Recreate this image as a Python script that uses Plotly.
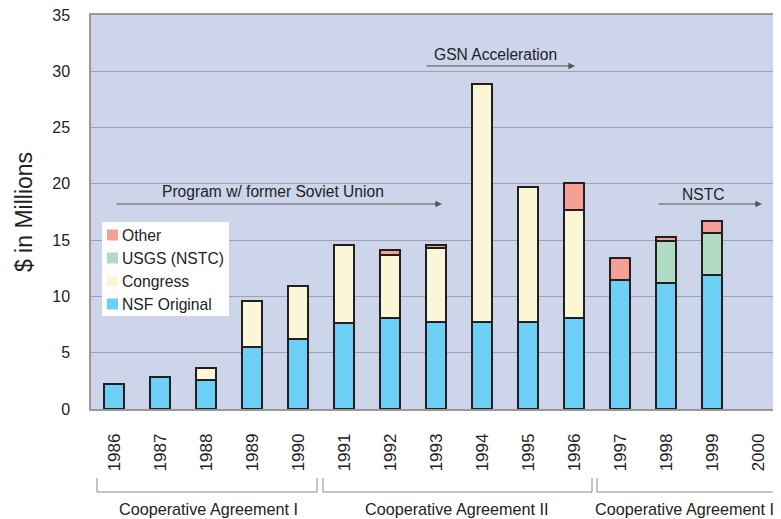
import plotly.graph_objects as go

years = ["1986", "1987", "1988", "1989", "1990", "1991", "1992", "1993",
         "1994", "1995", "1996", "1997", "1998", "1999", "2000"]
nsf_original = [2.2, 2.8, 2.6, 5.5, 6.2, 7.6, 8.05, 7.7, 7.7, 7.7, 8.05, 11.45, 11.15, 11.9, None]
congress = [None, None, 1.0, 4.1, 4.7, 7.0, 5.65, 6.6, 21.2, 12.0, 9.65, None, None, None, None]
usgs_nstc = [None, None, None, None, None, None, None, None, None, None, None, None, 3.8, 3.7, None]
other = [None, None, None, None, None, None, 0.4, 0.3, None, None, 2.4, 1.95, 0.35, 1.1, None]

series_names = ["NSF Original", "Congress", "USGS (NSTC)", "Other"]
series_values = [nsf_original, congress, usgs_nstc, other]
series_colors = ["#6dcff6", "#faf6d6", "#b1dcc4", "#f4a096"]

agreements = ["Cooperative Agreement I", "Cooperative Agreement II", "Cooperative Agreement II"]

FONT = "Liberation Sans, Arial, Helvetica, sans-serif"
NARROW = "Liberation Sans Narrow, Liberation Sans, Arial, sans-serif"

fig = go.Figure()
for name, vals, color in zip(series_names, series_values, series_colors):
    fig.add_trace(go.Bar(
        x=years, y=vals, name=name, showlegend=False,
        marker=dict(color=color, line=dict(color="#231f20", width=2)),
        width=0.44,
    ))

# paper coordinates helpers (page pixels): plot spans x 91..781, y 15..409
W, H, L, T = 690.0, 394.0, 91.0, 15.0
def px(x):
    return (x - L) / W
def py(y):
    return (T + H - y) / H

annotations = []
shapes = []

# arrows with labels
arrows = [
    ("Program w/ former Soviet Union", 115, 442, 204, 273, 192),
    ("GSN Acceleration", 425, 575, 66, 495, 55),
    ("NSTC", 657, 762, 204, 703, 194),
]
for text, x0, x1, yy, tx, ty in arrows:
    annotations.append(dict(
        xref="paper", yref="paper", x=px(x1), y=py(yy),
        ax=-(x1 - x0), ay=0, axref="pixel", ayref="pixel",
        showarrow=True, arrowhead=2, arrowsize=1.1, arrowwidth=1.2,
        arrowcolor="#555555", text="",
    ))
    annotations.append(dict(
        xref="paper", yref="paper", x=px(tx), y=py(ty),
        text=text, showarrow=False, font=dict(family=FONT, size=15.6, color="#222222"),
        xanchor="center", yanchor="middle",
    ))

# brackets under the year labels
brackets = [(97, 317, 208), (323, 592, 457), (597, 800, 687)]
for (x0, x1, tx), label in zip(brackets, agreements):
    shapes.append(dict(
        type="path", xref="paper", yref="paper",
        path=f"M {px(x0)} {py(478)} L {px(x0)} {py(492)} L {px(x1)} {py(492)} L {px(x1)} {py(478)}",
        line=dict(color="#8a8a8a", width=1),
    ))
    annotations.append(dict(
        xref="paper", yref="paper", x=px(tx), y=py(509),
        text=label, showarrow=False, font=dict(family=NARROW, size=16.2, color="#222222"),
        xanchor="center", yanchor="middle",
    ))

# legend box (drawn to match the original's compact layout)
shapes.append(dict(type="rect", xref="paper", yref="paper",
                   x0=px(102), x1=px(229), y0=py(222), y1=py(316),
                   fillcolor="white", line=dict(width=0), layer="above"))
rows = [235, 258, 281, 304]
for row, name, color in zip(rows, series_names[::-1], series_colors[::-1]):
    shapes.append(dict(type="rect", xref="paper", yref="paper",
                       x0=px(107), x1=px(118), y0=py(row - 5.5), y1=py(row + 5.5),
                       fillcolor=color, line=dict(width=0), layer="above"))
    annotations.append(dict(
        xref="paper", yref="paper", x=px(120), y=py(row),
        text=name, showarrow=False, font=dict(family=FONT, size=15.7, color="#222222"),
        xanchor="left", yanchor="middle",
    ))

# the page body adds an 8px margin, so the figure is offset by 8px
fig.update_layout(
    width=773, height=511,
    margin=dict(l=83, r=0, t=7, b=110, autoexpand=False),
    barmode="stack",
    plot_bgcolor="#ccd5ea",
    paper_bgcolor="white",
    font=dict(family=FONT, color="#222222"),
    showlegend=False,
    annotations=annotations,
    shapes=shapes,
)
fig.update_xaxes(
    type="category", tickangle=-90, tickfont=dict(family=FONT, size=17, color="#222222"),
    ticks="outside", ticklen=16, tickcolor="rgba(0,0,0,0)",
    showline=True, linecolor="#999999", linewidth=1.5, mirror=True, showgrid=False,
    automargin=False, ticklabeloverflow="allow",
)
fig.update_yaxes(
    range=[0, 35], dtick=5, tickfont=dict(family=FONT, size=16, color="#222222"),
    showgrid=True, gridcolor="#9ca1b0", gridwidth=1,
    showline=True, linecolor="#999999", linewidth=1.5, mirror=True,
    ticks="outside", ticklen=16, tickcolor="rgba(0,0,0,0)",
    title=dict(text="$ in Millions", font=dict(family=FONT, size=23, color="#222222"), standoff=13),
    zeroline=False, automargin=False, ticklabeloverflow="allow",
)

fig.write_html("out.html")
